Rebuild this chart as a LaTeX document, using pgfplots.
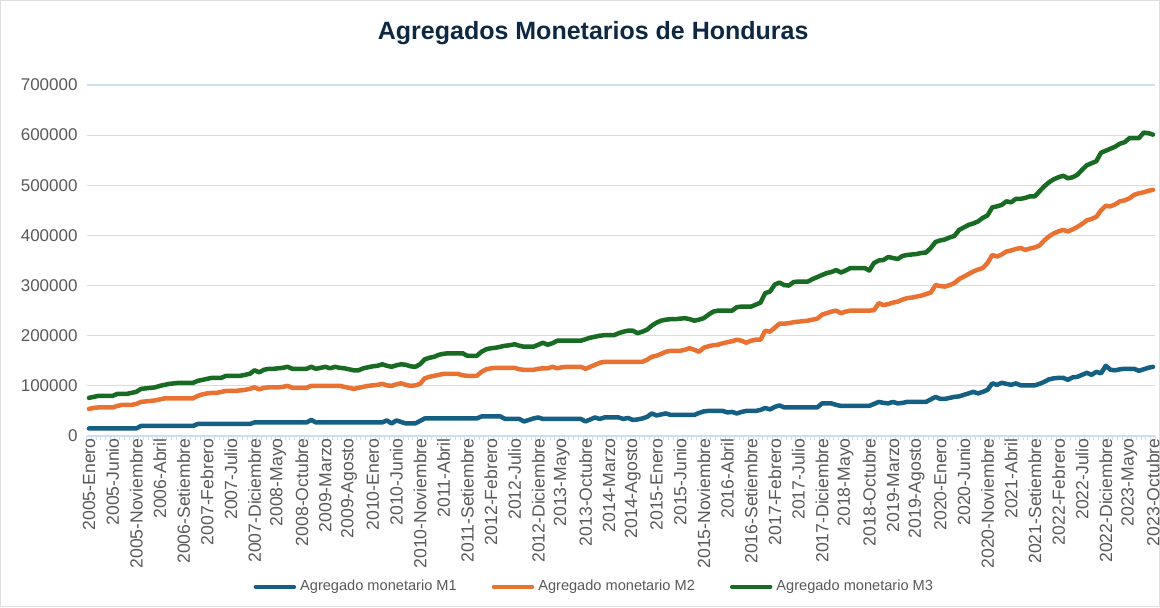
\documentclass[border=0pt]{standalone}
\usepackage{pgfplots}
\pgfplotsset{compat=1.18}
\usepackage{pgfplotstable}
\usepackage{fontspec}
\setmainfont{Liberation Sans}
\definecolor{mone}{HTML}{156082}
\definecolor{mtwo}{HTML}{E97132}
\definecolor{mthree}{HTML}{196B24}
\definecolor{titlec}{HTML}{0E2841}
\definecolor{txtc}{HTML}{595959}
\definecolor{gridc}{RGB}{205,222,240}

% month index, M1, M2, M3 (thousands)
\pgfplotstableread{
i m1 m2 m3
0 15 54 76
1 15 56 78
2 15 57 80
3 15 57 80
4 15 57 80
5 15 57 80
6 15 60 84
7 15 62 84
8 15 62 84
9 15 62 86
10 15 64 88
11 20 68 94
12 20 69 95
13 20 70 96
14 20 71 97
15 20 73 100
16 20 75 102
17 20 75 104
18 20 75 105
19 20 75 106
20 20 75 106
21 20 75 106
22 20 75 106
23 24 80 110
24 24 83 112
25 24 85 114
26 24 86 116
27 24 86 116
28 24 88 116
29 24 90 120
30 24 90 120
31 24 90 120
32 24 91 120
33 24 92 122
34 24 94 124
35 27 97 131
36 27 93 127
37 27 96 132
38 27 97 134
39 27 97 134
40 27 97 135
41 27 98 136
42 27 100 138
43 27 96 134
44 27 96 134
45 27 96 134
46 27 96 134
47 32 100 138
48 27 100 134
49 27 100 136
50 27 100 138
51 27 100 135
52 27 100 138
53 27 100 136
54 27 98 135
55 27 96 133
56 27 94 131
57 27 96 131
58 27 98 135
59 27 100 137
60 27 101 139
61 27 102 140
62 27 104 143
63 31 101 140
64 25 100 138
65 31 103 141
66 28 105 143
67 25 102 142
68 25 100 139
69 25 101 138
70 30 104 143
71 35 115 153
72 35 118 156
73 35 120 158
74 35 122 162
75 35 124 164
76 35 124 165
77 35 124 165
78 35 124 165
79 35 121 165
80 35 120 160
81 35 120 160
82 35 120 160
83 39 128 168
84 39 133 173
85 39 135 175
86 39 136 176
87 39 136 178
88 34 136 180
89 34 136 181
90 34 136 183
91 34 133 180
92 29 132 178
93 32 132 178
94 35 132 178
95 37 134 182
96 34 135 186
97 34 135 182
98 34 138 185
99 34 135 190
100 34 137 190
101 34 138 190
102 34 138 190
103 34 138 190
104 34 138 190
105 29 134 193
106 33 138 196
107 37 142 198
108 34 146 200
109 37 148 201
110 37 148 201
111 37 148 201
112 37 148 205
113 34 148 208
114 36 148 210
115 32 148 210
116 33 148 205
117 35 148 208
118 38 152 212
119 45 158 220
120 41 160 226
121 43 164 230
122 45 168 232
123 42 170 233
124 42 170 233
125 42 170 234
126 42 172 235
127 42 175 233
128 42 172 230
129 46 168 232
130 49 176 235
131 50 179 242
132 50 181 248
133 50 182 250
134 50 185 250
135 47 187 250
136 48 189 250
137 45 192 257
138 48 190 258
139 50 186 258
140 50 190 258
141 50 192 262
142 52 192 266
143 56 210 285
144 53 208 288
145 58 216 302
146 61 224 306
147 57 224 301
148 57 225 300
149 57 227 307
150 57 228 308
151 57 229 308
152 57 230 308
153 57 232 313
154 57 234 317
155 65 242 321
156 65 245 325
157 65 248 327
158 62 250 331
159 60 245 326
160 60 248 330
161 60 250 335
162 60 250 335
163 60 250 335
164 60 250 335
165 60 250 330
166 64 251 345
167 68 265 350
168 66 261 351
169 65 263 357
170 68 266 355
171 65 268 353
172 66 272 359
173 68 275 361
174 68 276 362
175 68 278 363
176 68 280 365
177 68 283 366
178 73 286 375
179 78 301 387
180 74 299 390
181 74 298 392
182 76 301 396
183 78 305 399
184 79 313 411
185 82 318 416
186 85 323 421
187 88 328 424
188 85 332 428
189 88 335 435
190 92 345 440
191 105 361 456
192 102 358 458
193 106 362 461
194 104 368 468
195 102 370 466
196 105 373 473
197 101 375 473
198 101 371 475
199 101 374 478
200 101 376 478
201 104 380 488
202 108 390 498
203 113 398 506
204 115 404 512
205 116 408 516
206 116 411 519
207 112 408 514
208 117 412 516
209 118 417 521
210 122 423 531
211 126 430 540
212 122 433 544
213 128 437 548
214 125 450 565
215 140 459 569
216 132 458 573
217 131 462 577
218 133 468 583
219 134 470 586
220 134 474 594
221 134 481 594
222 130 484 594
223 133 486 605
224 136 489 604
225 138 491 601
}\monetarios

\begin{document}
\begin{tikzpicture}
\useasboundingbox (-43.3pt,-86pt) rectangle (536.7pt,218pt);
\draw[gray!25, line width=0.5pt] (-42.8pt,-85.5pt) rectangle (536.2pt,217.5pt);
\begin{axis}[
  at={(0pt,0pt)}, anchor=south west,
  width=534.4pt, height=175.5pt, scale only axis,
  xmin=-0.5, xmax=225.5, ymin=0, ymax=700,
  axis x line=bottom, axis y line=left,
  x axis line style={draw=gridc, line width=0.6pt, -},
  y axis line style={draw=none},
  ytick={0,100,...,700},
  yticklabels={0,100000,200000,300000,400000,500000,600000,700000},
  ymajorgrids, grid style={gridc, line width=0.6pt},
  ytick style={draw=none},
  xtick={0,5,...,225},
  xticklabels={2005-Enero,2005-Junio,2005-Noviembre,2006-Abril,2006-Setiembre,2007-Febrero,2007-Julio,2007-Diciembre,2008-Mayo,2008-Octubre,2009-Marzo,2009-Agosto,2010-Enero,2010-Junio,2010-Noviembre,2011-Abril,2011-Setiembre,2012-Febrero,2012-Julio,2012-Diciembre,2013-Mayo,2013-Octubre,2014-Marzo,2014-Agosto,2015-Enero,2015-Junio,2015-Noviembre,2016-Abril,2016-Setiembre,2017-Febrero,2017-Julio,2017-Diciembre,2018-Mayo,2018-Octubre,2019-Marzo,2019-Agosto,2020-Enero,2020-Junio,2020-Noviembre,2021-Abril,2021-Setiembre,2022-Febrero,2022-Julio,2022-Diciembre,2023-Mayo,2023-Octubre},
  minor xtick={-0.5,0.5,...,225.5},
  major tick length=0pt, minor tick length=2.2pt,
  tick align=outside,
  minor x tick style={draw=gridc, line width=0.5pt},
  x tick label style={rotate=90, anchor=east, font=\fontsize{8.8}{10}\selectfont, text=txtc, inner sep=0pt, xshift=-1pt},
  y tick label style={font=\fontsize{8.5}{10}\selectfont, text=txtc, xshift=-1pt},
  legend columns=3,
  legend style={at={(0.476,-0.43)}, anchor=center, draw=none, font=\fontsize{7.3}{8.5}\selectfont, text=txtc,
    /tikz/every even column/.append style={column sep=15.5pt}},
  legend image code/.code={\draw[#1, line width=2.25pt] (0pt,0pt) -- (19pt,0pt);},
  title={\textbf{Agregados Monetarios de Honduras}},
  title style={at={(0.474,1.114)}, anchor=center, font=\fontsize{12.5}{14}\selectfont, text=titlec},
  every axis plot/.append style={line width=2.25pt, line join=round, line cap=round, no markers},
]
\addplot[mone] table[x=i, y=m1] {\monetarios};
\addplot[mtwo] table[x=i, y=m2] {\monetarios};
\addplot[mthree] table[x=i, y=m3] {\monetarios};
\legend{Agregado monetario M1, Agregado monetario M2, Agregado monetario M3}
\end{axis}
\end{tikzpicture}
\end{document}
